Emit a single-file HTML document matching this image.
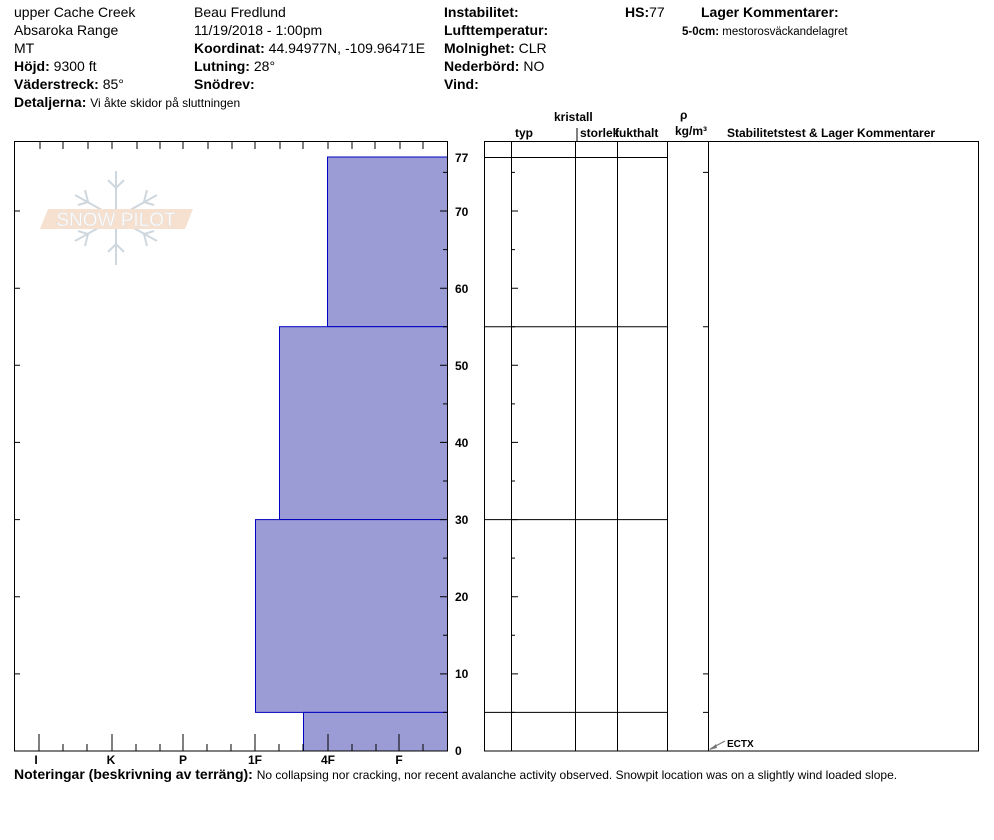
<!DOCTYPE html>
<html><head><meta charset="utf-8"><style>
body{margin:0;background:#fff;}
svg{display:block;font-family:"Liberation Sans",Arial,sans-serif;}
.b{font-weight:bold}
</style></head><body>
<svg width="994" height="840" viewBox="0 0 994 840" xmlns="http://www.w3.org/2000/svg">
<g font-size="14" fill="#000">
<text x="14" y="17">upper Cache Creek</text>
<text x="14" y="35">Absaroka Range</text>
<text x="14" y="53">MT</text>
<text x="14" y="71"><tspan class="b">Höjd:</tspan> 9300 ft</text>
<text x="14" y="89"><tspan class="b">Väderstreck:</tspan> 85°</text>
<text x="14" y="107"><tspan class="b">Detaljerna:</tspan> <tspan font-size="12">Vi åkte skidor på sluttningen</tspan></text>
<text x="194" y="17">Beau  Fredlund</text>
<text x="194" y="35">11/19/2018 - 1:00pm</text>
<text x="194" y="53"><tspan class="b">Koordinat:</tspan> 44.94977N, -109.96471E</text>
<text x="194" y="71"><tspan class="b">Lutning:</tspan> 28°</text>
<text x="194" y="89" class="b">Snödrev:</text>
<text x="444" y="17" class="b">Instabilitet:</text>
<text x="444" y="35" class="b">Lufttemperatur:</text>
<text x="444" y="53"><tspan class="b">Molnighet:</tspan> CLR</text>
<text x="444" y="71"><tspan class="b">Nederbörd:</tspan> NO</text>
<text x="444" y="89" class="b">Vind:</text>
<text x="625" y="17"><tspan class="b">HS:</tspan>77</text>
<text x="701" y="17" class="b">Lager Kommentarer:</text>
<text x="682" y="35" font-size="11.5"><tspan class="b">5-0cm:</tspan> mestorosväckandelagret</text>
</g>
<!-- logo -->
<g opacity="0.55">
<g stroke="#a9b8c4" stroke-width="2" fill="none">
<line x1="116" y1="171" x2="116" y2="265"/>
<line x1="75" y1="195" x2="157" y2="241"/>
<line x1="75" y1="241" x2="157" y2="195"/>
<path d="M108 180 L116 188 L124 180 M108 252 L116 244 L124 252 M85 190 L88 202 L78 205 M147 190 L144 202 L154 205 M85 246 L88 234 L78 231 M147 246 L144 234 L154 231"/>
</g>
<polygon points="48,209 193,209 185,229 40,229" fill="#f0c8a8"/>
<text x="116" y="226" font-size="19" fill="#fff" text-anchor="middle" stroke="#ccc" stroke-width="0.5">SNOW PILOT</text>
</g>
<!-- bars -->
<g fill="#9b9bd6" stroke="#0000c0" stroke-width="1">
<rect x="327.5" y="157" width="120" height="169.7"/>
<rect x="279.5" y="326.7" width="168" height="192.9"/>
<rect x="255.5" y="519.6" width="192" height="192.8"/>
<rect x="303.5" y="712.4" width="144" height="38.6"/>
</g>
<rect x="14.5" y="141.5" width="433" height="609.5" fill="none" stroke="#000"/>
<g stroke="#000" stroke-width="1">
<path d="M40 141v8M63 141v8M88 141v8M112 141v8M137 141v8M160 141v8M183 141v8M208 141v8M232 141v8M255 141v8M280 141v8M303 141v8M328 141v8M352 141v8M375 141v8M400 141v8M423 141v8"/>
<path d="M39 751v-17M112 751v-17M183 751v-17M255 751v-17M328 751v-17M399 751v-17M63 751v-7M87 751v-7M136 751v-7M160 751v-7M207 751v-7M231 751v-7M279 751v-7M303 751v-7M352 751v-7M376 751v-7M423 751v-7"/>
<path d="M447 673.9h-7M447 596.7h-7M447 519.6h-7M447 442.4h-7M447 365.3h-7M447 288.2h-7M447 211h-7M447 712.4h-4M447 635.3h-4M447 558.1h-4M447 481h-4M447 403.9h-4M447 326.7h-4M447 249.6h-4M447 172.4h-4"/>
<path d="M14 673.9h6M14 596.7h6M14 519.6h6M14 442.4h6M14 365.3h6M14 288.2h6M14 211h6"/>
<rect x="484.5" y="141.5" width="494" height="609.5" fill="none"/>
<path d="M511.5 141v610M575.5 141v610M617.5 141v610M667.5 141v610M708.5 141v610"/>
<path d="M484 157.5h183M484 326.7h183M484 519.6h183M484 712.4h183"/>
<path d="M511 673.9h7M511 596.7h7M511 519.6h7M511 442.4h7M511 365.3h7M511 288.2h7M511 211h7M511 712.4h4M511 635.3h4M511 558.1h4M511 481h4M511 403.9h4M511 326.7h4M511 249.6h4M511 172.4h4"/>
<path d="M708 712.4h-5M708 326.7h-5M708 172.4h-5M708 673.9h-5"/>
<path d="M577 128v13"/>
</g>
<g font-size="12" font-weight="bold" fill="#000">
<text x="455" y="162">77</text><text x="455" y="216">70</text><text x="455" y="293">60</text>
<text x="455" y="370">50</text><text x="455" y="447">40</text><text x="455" y="524">30</text>
<text x="455" y="601">20</text><text x="455" y="678">10</text><text x="455" y="755">0</text>
<text x="36" y="764" text-anchor="middle">I</text><text x="111" y="764" text-anchor="middle">K</text>
<text x="183" y="764" text-anchor="middle">P</text><text x="255" y="764" text-anchor="middle">1F</text>
<text x="328" y="764" text-anchor="middle">4F</text><text x="399" y="764" text-anchor="middle">F</text>
<text x="554" y="121">kristall</text>
<text x="515" y="137">typ</text>
<text x="580" y="137">storlek</text>
<text x="615" y="137">fukthalt</text>
<text x="680" y="119">ρ</text>
<text x="675" y="135">kg/m³</text>
<text x="727" y="137">Stabilitetstest &amp; Lager Kommentarer</text>
</g>
<line x1="710" y1="749" x2="725" y2="741" stroke="#777"/>
<polygon points="709,750 716,744 717,748" fill="#777"/>
<text x="727" y="747" font-size="10" font-weight="bold">ECTX</text>
<text x="14" y="779" font-size="14"><tspan class="b">Noteringar (beskrivning av terräng):</tspan> <tspan font-size="12">No collapsing nor cracking, nor recent avalanche activity observed.  Snowpit location was on a slightly wind loaded slope.</tspan></text>
</svg>
</body></html>
